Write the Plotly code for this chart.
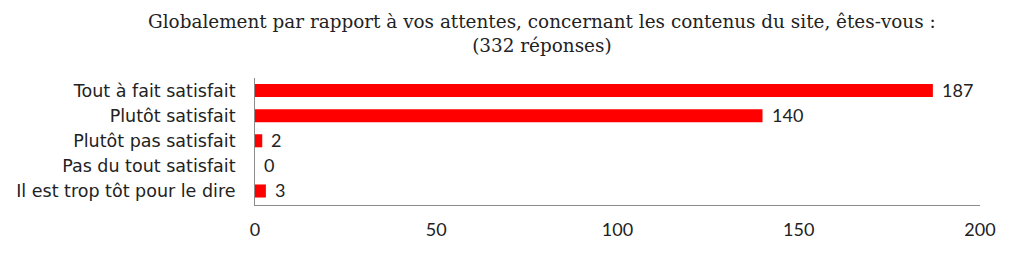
import plotly.graph_objects as go

categories = ["Tout à fait satisfait", "Plutôt satisfait", "Plutôt pas satisfait",
              "Pas du tout satisfait", "Il est trop tôt pour le dire"]
values = [187, 140, 2, 0, 3]
x_ticks = [0, 50, 100, 150, 200]
title_lines = ["Globalement par rapport à vos attentes, concernant les contenus du site, êtes-vous :",
               "(332 réponses)"]

fig = go.Figure()
fig.add_trace(go.Bar(
    y=categories, x=values, orientation="h",
    marker=dict(color="#ff0000", line=dict(width=0)),
    width=0.52,
    hoverinfo="skip",
))
for c, v in zip(categories, values):
    fig.add_annotation(x=v, y=c, text=str(v), showarrow=False, xanchor="left",
                       xshift=7, yshift=1, font=dict(family="Lato", size=18, color="#222"))

fig.add_annotation(xref="paper", yref="paper", x=(542 - 255) / 725, y=1 + (78 - 9) / 127,
                   xanchor="center", yanchor="top", showarrow=False,
                   text="<br>".join(title_lines),
                   font=dict(family="DejaVu Serif", size=18.4, color="#222"))

fig.update_layout(
    width=1016, height=261,
    margin=dict(l=255, r=36, t=78, b=56, autoexpand=False),
    paper_bgcolor="white", plot_bgcolor="white",
    showlegend=False,
)
fig.update_xaxes(range=[0, 200], tickvals=x_ticks, showgrid=False, zeroline=False,
                 showline=True, linecolor="#8c8c8c", linewidth=1, ticks="",
                 ticklabelstandoff=8, automargin=False,
                 tickfont=dict(family="Lato", size=18, color="#222"))
fig.update_yaxes(categoryorder="array", categoryarray=categories, autorange="reversed",
                 showgrid=False, zeroline=False, showline=True, linecolor="#8c8c8c",
                 linewidth=1, ticks="", ticklabelstandoff=15, automargin=False,
                 tickfont=dict(family="DejaVu Sans", size=17.5, color="#222"))

fig.write_html("out.html")
